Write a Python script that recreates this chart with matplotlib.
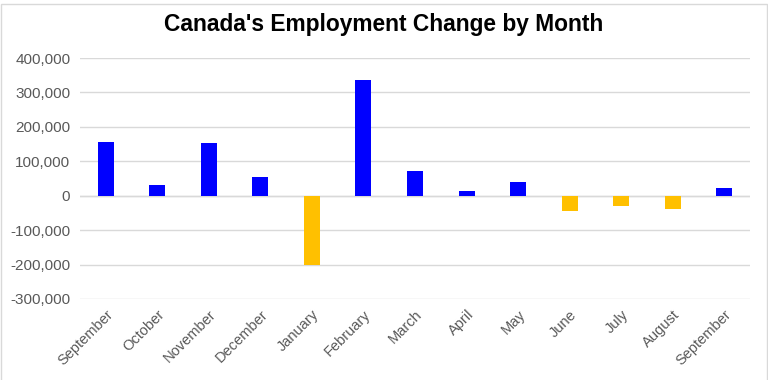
import numpy as np
import matplotlib.pyplot as plt
from matplotlib.patches import Rectangle
from matplotlib.ticker import FuncFormatter

plt.rcParams['font.family'] = ['Liberation Sans', 'DejaVu Sans']

months = ["September", "October", "November", "December", "January", "February",
          "March", "April", "May", "June", "July", "August", "September"]
change = [157000, 31000, 154000, 55000, -200000, 337000,
          73000, 15000, 40000, -43000, -31000, -40000, 21000]

colors = ["#0000FF" if v >= 0 else "#FFC000" for v in change]

fig = plt.figure(figsize=(7.68, 3.8), dpi=100)
ax = fig.add_axes([80/768, 1 - 299/380, 670/768, (299 - 58)/380])

x = np.arange(len(months))
ax.bar(x, change, width=0.31, color=colors, zorder=3)

ax.set_xlim(-0.5, len(months) - 0.5)
ax.set_ylim(-300000, 400000)
ax.set_yticks(np.arange(-300000, 400001, 100000))
ax.yaxis.set_major_formatter(FuncFormatter(lambda v, p: f"{int(v):,}"))
ax.grid(axis='y', color='#D9D9D9', linewidth=1, zorder=0)
ax.axhline(0, color='#D9D9D9', linewidth=1, zorder=2)

for s in ax.spines.values():
    s.set_visible(False)
ax.tick_params(axis='both', length=0, colors='#595959')
ax.tick_params(axis='y', pad=7, labelsize=11)
ax.set_xticks(x)
ax.set_xticklabels(months, rotation=45, ha='right', rotation_mode='anchor')
ax.tick_params(axis='x', pad=6, labelsize=10.5)

fig.text(0.5, 1 - 24/380, "Canada's Employment Change by Month",
         ha='center', va='center', fontsize=16.4, fontweight='bold', color='black')

# thin chart border
fig.patches.append(Rectangle((0.5/768, -0.01), 766/768, 1.0,
                             transform=fig.transFigure, fill=False,
                             edgecolor='#D9D9D9', linewidth=1))

fig.savefig("out.png", dpi=100)
